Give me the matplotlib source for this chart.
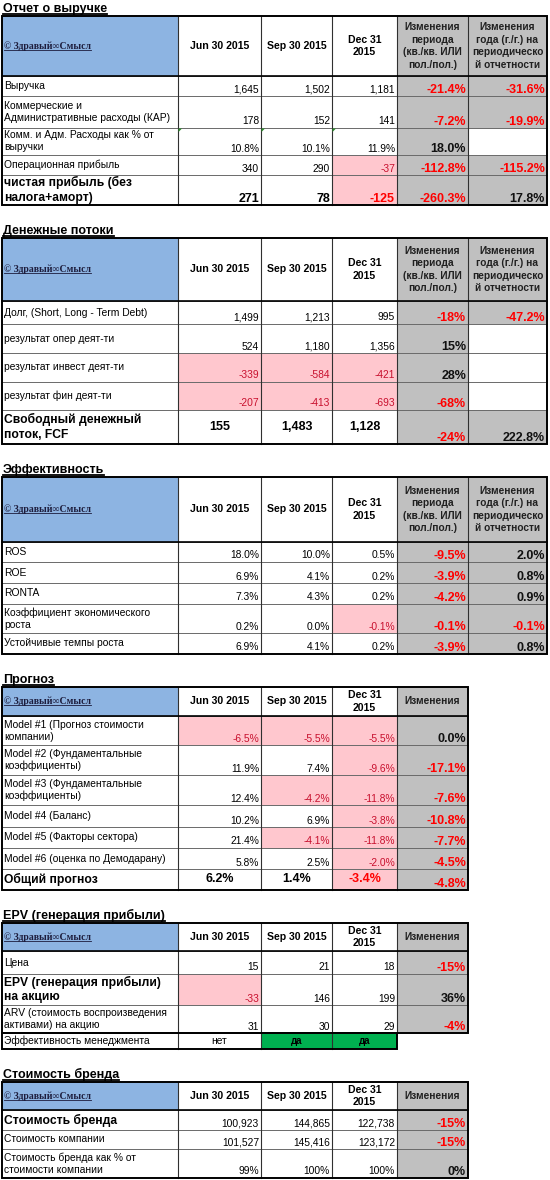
import matplotlib
matplotlib.use('Agg')
import matplotlib.pyplot as plt
from matplotlib.patches import Rectangle, Polygon

plt.rcParams['font.family'] = ['Liberation Sans', 'DejaVu Sans']

# ---- data ----
dates = ['Jun 30 2015', 'Sep 30 2015', 'Dec 31\n2015']
chg_head_long = ['Изменения\nпериода\n(кв./кв. ИЛИ\nпол./пол.)',
                 'Изменения\nгода (г./г.) на\nпериодическо\nй отчетности']
chg_head_short = ['Изменения']
brand_mark = '© Здравый∞Смысл'

rev_title = 'Отчет о выручке'
rev_labels = ['Выручка', 'Коммерческие и\nАдминистративные расходы (КАР)',
              'Комм. и Адм. Расходы как % от\nвыручки', 'Операционная прибыль',
              'чистая прибыль (без\nналога+аморт)']
rev_fmt = ['n', 'n', 'p1', 'n', 'n']
rev_jun = [1645, 178, 10.8, 340, 271]
rev_sep = [1502, 152, 10.1, 290, 78]
rev_dec = [1181, 141, 11.9, -37, -125]
rev_chg_q = [-21.4, -7.2, 18.0, -112.8, -260.3]
rev_chg_y = [-31.6, -19.9, None, -115.2, 17.8]

cf_title = 'Денежные потоки'
cf_labels = ['Долг, (Short, Long - Term Debt)', 'результат опер деят-ти',
             'результат инвест деят-ти', 'результат фин деят-ти',
             'Свободный денежный\nпоток, FCF']
cf_fmt = ['n', 'n', 'n', 'n', 'n']
cf_jun = [1499, 524, -339, -207, 155]
cf_sep = [1213, 1180, -584, -413, 1483]
cf_dec = [995, 1356, -421, -693, 1128]
cf_chg_q = [-18, 15, 28, -68, -24]
cf_chg_y = [-47.2, None, None, None, 222.8]

eff_title = 'Эффективность'
eff_labels = ['ROS', 'ROE', 'RONTA', 'Коэффициент экономического\nроста',
              'Устойчивые темпы роста']
eff_fmt = ['p1'] * 5
eff_jun = [18.0, 6.9, 7.3, 0.2, 6.9]
eff_sep = [10.0, 4.1, 4.3, 0.0, 4.1]
eff_dec = [0.5, 0.2, 0.2, -0.1, 0.2]
eff_chg_q = [-9.5, -3.9, -4.2, -0.1, -3.9]
eff_chg_y = [2.0, 0.8, 0.9, -0.1, 0.8]

fc_title = 'Прогноз'
fc_labels = ['Model #1 (Прогноз стоимости\nкомпании)',
             'Model #2 (Фундаментальные\nкоэффициенты)',
             'Model #3 (Фундаментальные\nкоэффициенты)',
             'Model #4 (Баланс)', 'Model #5 (Факторы сектора)',
             'Model #6 (оценка по Демодарану)', 'Общий прогноз']
fc_fmt = ['p1'] * 7
fc_jun = [-6.5, 11.9, 12.4, 10.2, 21.4, 5.8, 6.2]
fc_sep = [-5.5, 7.4, -4.2, 6.9, -4.1, 2.5, 1.4]
fc_dec = [-5.5, -9.6, -11.8, -3.8, -11.8, -2.0, -3.4]
fc_chg = [0.0, -17.1, -7.6, -10.8, -7.7, -4.5, -4.8]

epv_title = 'EPV (генерация прибыли)'
epv_labels = ['Цена', 'EPV (генерация прибыли)\nна акцию',
              'ARV (стоимость воспроизведения\nактивами) на акцию']
epv_fmt = ['n', 'n', 'n']
epv_jun = [15, -33, 31]
epv_sep = [21, 146, 30]
epv_dec = [18, 199, 29]
epv_chg = [-15, 36, -4]
mgmt_label = 'Эффективность менеджмента'
mgmt_vals = ['нет', 'да', 'да']

br_title = 'Стоимость бренда'
br_labels = ['Стоимость бренда', 'Стоимость компании',
             'Стоимость бренда как % от\nстоимости компании']
br_fmt = ['n', 'n', 'p0']
br_jun = [100923, 101527, 99]
br_sep = [144865, 145416, 100]
br_dec = [122738, 123172, 100]
br_chg = [-15, -15, 0]

# ---- style ----
BLUE = '#8DB4E2'
GREY = '#C0C0C0'
PINK = '#FFC7CE'
GREEN = '#00B050'
RED = '#FF0000'
DKRED = '#C8102E'
COLS = [2, 178, 261, 332, 397, 468, 547]

fig = plt.figure(figsize=(5.5, 11.8), dpi=100)
ax = fig.add_axes([0, 0, 1, 1])
ax.set_xlim(0, 550)
ax.set_ylim(1180, 0)
ax.axis('off')

underlined = []


def box(x0, y0, x1, y1, fc):
    ax.add_patch(Rectangle((x0, y0), x1 - x0, y1 - y0, fc=fc, ec='none', zorder=1))


def fmt(v, f, dec=1):
    if v is None:
        return ''
    if f == 'n':
        return f'{v:,.0f}'
    if f == 'p0':
        return f'{v:.0f}%'
    return f'{v:.{dec}f}%'


def section(title, labels, fmts, vals, chgs, chg_dec, head_top, head_bot, bots,
            big=(), center=(), bold_vals=True, long_head=True):
    ncol = 4 + len(chgs)
    right = COLS[ncol]
    # title
    t = ax.text(3, head_top - 4, title, fontsize=9.0, fontweight='bold', va='baseline', zorder=5)
    underlined.append((t, head_top - 2.5, 1.3))
    # header
    box(COLS[0], head_top, COLS[1], head_bot, BLUE)
    for k in range(len(chgs)):
        box(COLS[4 + k], head_top, COLS[5 + k], head_bot, GREY)
    b = ax.text(4, (head_top + head_bot) / 2, brand_mark, fontsize=7.0, fontweight='bold',
                family='Liberation Serif', color='#1c1c3c', va='center', zorder=5)
    underlined.append((b, None, 0.6))
    hm = (head_top + head_bot) / 2
    for k, d in enumerate(dates):
        ax.text((COLS[1 + k] + COLS[2 + k]) / 2, hm, d, fontsize=7.6, fontweight='bold',
                ha='center', va='center', linespacing=1.35, zorder=5)
    heads = chg_head_long if long_head else chg_head_short
    for k in range(len(chgs)):
        ax.text((COLS[4 + k] + COLS[5 + k]) / 2, hm, heads[k], fontsize=7.3, fontweight='bold',
                ha='center', va='center', linespacing=1.3, color='#202020', zorder=5)
    # rows
    tops = [head_bot] + bots[:-1]
    for i, lab in enumerate(labels):
        y0, y1 = tops[i], bots[i]
        is_big = i in big
        ax.text(4, (y0 + y1) / 2, lab, fontsize=8.7 if is_big else 7.4,
                fontweight='bold' if is_big else 'normal', va='center',
                linespacing=1.3 if is_big else 1.25, zorder=5)
        for k in range(3):
            v = vals[k][i]
            neg = v < 0
            if neg:
                box(COLS[1 + k], y0, COLS[2 + k], y1, PINK)
            bold = is_big and bold_vals
            col = (RED if bold else DKRED) if neg else 'black'
            s = fmt(v, fmts[i])
            if i in center:
                ax.text((COLS[1 + k] + COLS[2 + k]) / 2, (y0 + y1) / 2, s, fontsize=9,
                        fontweight='bold', ha='center', va='center', color=col, zorder=5)
            else:
                ax.text(COLS[2 + k] - 2, y1 - 3.5, s, fontsize=9 if bold else 7.4,
                        fontweight='bold' if bold else 'normal', ha='right',
                        va='baseline', color=col, zorder=5)
        for k, ch in enumerate(chgs):
            c = ch[i]
            if c is None:
                continue
            box(COLS[4 + k], y0, COLS[5 + k], y1, GREY)
            ax.text(COLS[5 + k] - 2, y1 - 3, fmt(c, 'p', chg_dec[k]), fontsize=9,
                    fontweight='bold', ha='right', va='baseline',
                    color=RED if c < 0 else '#111111', zorder=5)
    # grid
    for y in [head_bot] + bots[:-1]:
        ax.plot([COLS[0], right], [y, y], color='#6a6a6a', lw=0.7, zorder=3)
    for x in COLS[1:ncol]:
        ax.plot([x, x], [head_top, bots[-1]], color='#303030', lw=0.8, zorder=3)
    ax.plot([COLS[0], right], [head_bot, head_bot], color='black', lw=1.2, zorder=4)
    ax.add_patch(Rectangle((COLS[0], head_top), right - COLS[0], bots[-1] - head_top,
                           fc='none', ec='black', lw=1.4, zorder=4))


section(rev_title, rev_labels, rev_fmt, [rev_jun, rev_sep, rev_dec], [rev_chg_q, rev_chg_y],
        [1, 1], 16, 76, [96, 128, 155, 175, 205], big=(4,))
section(cf_title, cf_labels, cf_fmt, [cf_jun, cf_sep, cf_dec], [cf_chg_q, cf_chg_y],
        [0, 1], 238, 301, [324, 353, 382, 410, 444], big=(4,), center=(4,))
section(eff_title, eff_labels, eff_fmt, [eff_jun, eff_sep, eff_dec], [eff_chg_q, eff_chg_y],
        [1, 1], 477, 542, [562, 583, 604, 633, 654])
section(fc_title, fc_labels, fc_fmt, [fc_jun, fc_sep, fc_dec], [fc_chg],
        [1], 687, 716, [745, 775, 805, 827, 848, 869, 890], big=(6,), center=(6,),
        long_head=False)
section(epv_title, epv_labels, epv_fmt, [epv_jun, epv_sep, epv_dec], [epv_chg],
        [0], 923, 951, [974, 1005, 1033], big=(1,), bold_vals=False, long_head=False)
section(br_title, br_labels, br_fmt, [br_jun, br_sep, br_dec], [br_chg],
        [0], 1082, 1110, [1130, 1149, 1178], big=(0,), bold_vals=False, long_head=False)

# management efficiency row (4 columns only)
my0, my1 = 1033, 1049
ax.text(4, (my0 + my1) / 2, mgmt_label, fontsize=7.4, va='center', zorder=5)
for k, v in enumerate(mgmt_vals):
    if v == 'да':
        box(COLS[1 + k], my0, COLS[2 + k], my1, GREEN)
    ax.text((COLS[1 + k] + COLS[2 + k]) / 2, (my0 + my1) / 2, v, fontsize=7 if v == 'да' else 7.4,
            fontweight='bold' if v == 'да' else 'normal', ha='center', va='center', zorder=5)
for x in COLS[1:4]:
    ax.plot([x, x], [my0, my1], color='#303030', lw=0.8, zorder=3)
ax.add_patch(Rectangle((COLS[0], my0), COLS[4] - COLS[0], my1 - my0,
                       fc='none', ec='black', lw=1.4, zorder=4))

# little green error markers
for x in COLS[1:4]:
    ax.add_patch(Polygon([[x + 0.5, 128.5], [x + 4, 128.5], [x + 0.5, 132]],
                         closed=True, fc='#2e8b2e', ec='none', zorder=5))

# underline titles and brand marks
fig.canvas.draw()
inv = ax.transData.inverted()
for t, ybase, lw in underlined:
    bb = t.get_window_extent().transformed(inv)
    x0, x1 = min(bb.x0, bb.x1), max(bb.x0, bb.x1)
    y = ybase if ybase is not None else max(bb.y0, bb.y1) - 1
    ax.plot([x0, x1], [y, y], color=t.get_color(), lw=lw, zorder=6)

fig.savefig('out.png', dpi=100, facecolor='white')
